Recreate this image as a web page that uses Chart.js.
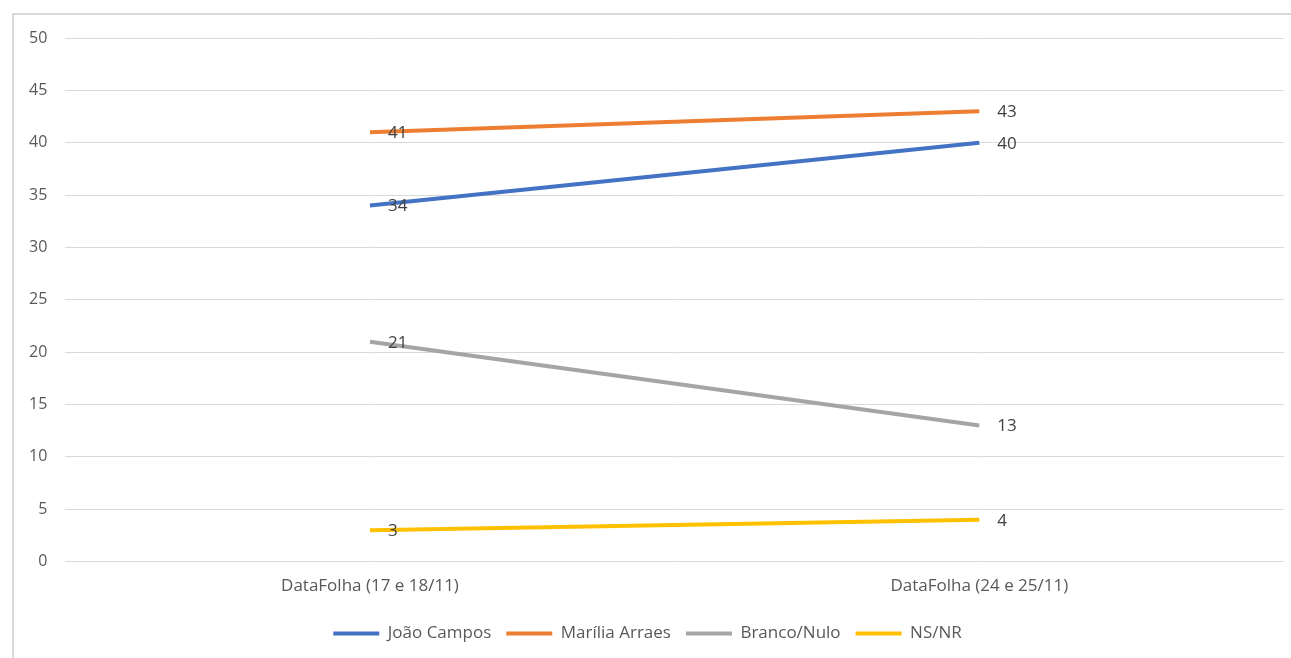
<!DOCTYPE html>
<html>
<head>
<meta charset="utf-8">
<script src="https://cdn.jsdelivr.net/npm/chart.js@4/dist/chart.umd.min.js"></script>
<style>
  html, body { margin: 0; padding: 0; background: #fff; }
  #wrap { position: absolute; left: 0; top: 0; width: 1291px; height: 658px; }
  #frame { position: absolute; left: 12px; top: 13px; right: 0; bottom: 0;
           border-left: 2px solid #d9d9d9; border-top: 2px solid #d9d9d9; }
</style>
</head>
<body>
<div id="frame"></div>
<div id="wrap"><canvas id="chart"></canvas></div>
<script>
// poll data
var labels = ['DataFolha (17 e 18/11)', 'DataFolha (24 e 25/11)'];
var joaoCampos = [34, 40];
var mariliaArraes = [41, 43];
var brancoNulo = [21, 13];
var nsNr = [3, 4];
var yTicks = [0, 5, 10, 15, 20, 25, 30, 35, 40, 45, 50];

var tickFont = { family: 'Open Sans', size: 17 };

// draws the value next to each point
var valueLabels = {
  id: 'valueLabels',
  afterDatasetsDraw: function (chart) {
    var ctx = chart.ctx;
    ctx.save();
    ctx.font = '17px "Open Sans"';
    ctx.fillStyle = '#404040';
    ctx.textAlign = 'left';
    ctx.textBaseline = 'middle';
    chart.data.datasets.forEach(function (ds, i) {
      var meta = chart.getDatasetMeta(i);
      meta.data.forEach(function (pt, j) {
        ctx.fillText(ds.data[j], pt.x + 18, pt.y + 1);
      });
    });
    ctx.restore();
  }
};

function line(label, data, color) {
  return {
    label: label,
    data: data,
    borderColor: color,
    backgroundColor: color,
    borderWidth: 4,
    pointRadius: 0,
    tension: 0,
    fill: false
  };
}

new Chart(document.getElementById('chart'), {
  type: 'line',
  data: {
    labels: labels,
    datasets: [
      line('João Campos', joaoCampos, '#4472C4'),
      line('Marília Arraes', mariliaArraes, '#ED7D31'),
      line('Branco/Nulo', brancoNulo, '#A5A5A5'),
      line('NS/NR', nsNr, '#FFC000')
    ]
  },
  options: {
    responsive: true,
    maintainAspectRatio: false,
    animation: false,
    layout: { padding: { left: 11, right: 7, top: 38, bottom: 6 } },
    plugins: {
      tooltip: { enabled: false },
      legend: {
        position: 'bottom',
        labels: {
          font: tickFont,
          color: '#595959',
          boxWidth: 46,
          boxHeight: 4,
          padding: 15,
          generateLabels: function (chart) {
            var items = Chart.defaults.plugins.legend.labels.generateLabels(chart);
            items.forEach(function (it) { it.lineWidth = 0; });
            return items;
          }
        }
      }
    },
    scales: {
      x: {
        offset: true,
        grid: { display: false, drawTicks: false },
        border: { display: false },
        ticks: { font: tickFont, color: '#595959', padding: 14 }
      },
      y: {
        min: 0,
        max: 50,
        afterBuildTicks: function (axis) {
          axis.ticks = yTicks.map(function (v) { return { value: v }; });
        },
        grid: { color: '#d9d9d9', lineWidth: 1, drawTicks: false },
        border: { display: false },
        ticks: { font: { family: 'Open Sans', size: 16 }, color: '#595959', padding: 18 }
      }
    }
  },
  plugins: [valueLabels]
});
</script>
</body>
</html>
